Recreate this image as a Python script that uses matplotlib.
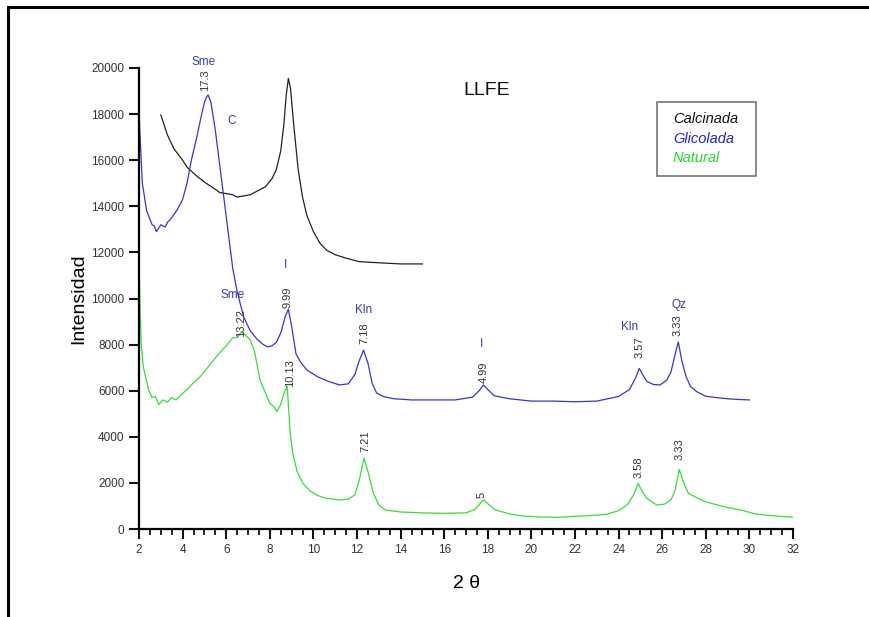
import numpy as np
from matplotlib import pyplot as plt, rcParams
from matplotlib.lines import Line2D
from matplotlib.patches import Rectangle
from matplotlib.ticker import MultipleLocator

rcParams['font.family'] = ['Liberation Sans', 'DejaVu Sans']

# Calcinada (black)
calc_x = [3.0, 3.3, 3.6, 4.0, 4.2, 4.6, 5.0, 5.4, 5.7, 6.0, 6.3, 6.5, 6.8, 7.1, 7.4, 7.8,
          8.1, 8.3, 8.5, 8.65, 8.75, 8.85, 8.95, 9.1, 9.3, 9.5, 9.7, 10.0, 10.3, 10.6,
          11.0, 11.5, 12.1, 13.0, 14.0, 15.0]
calc_y = [17960, 17100, 16500, 16000, 15700, 15350, 15050, 14800, 14600, 14550, 14500,
          14400, 14450, 14500, 14650, 14850, 15200, 15600, 16400, 17600, 18800, 19550,
          19100, 17500, 15600, 14400, 13600, 12900, 12400, 12100, 11900, 11750, 11600,
          11550, 11500, 11500]

# Glicolada (blue)
glic_x = [2.0, 2.05, 2.15, 2.35, 2.6, 2.7, 2.8, 3.0, 3.2, 3.3, 3.5, 3.75, 4.0, 4.2, 4.4,
          4.65, 4.85, 5.0, 5.1, 5.17, 5.3, 5.5, 5.7, 5.9, 6.1, 6.3, 6.5, 6.8, 7.1, 7.4,
          7.7, 7.9, 8.1, 8.3, 8.5, 8.7, 8.85, 9.0, 9.2, 9.4, 9.7, 10.2, 10.7, 11.2, 11.6,
          11.9, 12.1, 12.3, 12.5, 12.7, 12.9, 13.2, 13.7, 14.5, 15.5, 16.5, 17.3, 17.6,
          17.8, 18.0, 18.3, 19.0, 20.0, 21.0, 22.0, 23.0, 24.0, 24.5, 24.8, 24.95, 25.1,
          25.3, 25.6, 25.9, 26.2, 26.4, 26.6, 26.74, 26.9, 27.1, 27.3, 27.6, 28.0, 28.5,
          29.0, 29.5, 30.0]
glic_y = [18000, 17000, 15000, 13800, 13200, 13150, 12900, 13200, 13100, 13300, 13500,
          13850, 14300, 15000, 16000, 17000, 17900, 18500, 18750, 18830, 18500, 17300,
          15800, 14300, 12800, 11300, 10300, 9200, 8600, 8250, 8000, 7900, 7950, 8100,
          8500, 9200, 9530, 8800, 7600, 7250, 6900, 6600, 6400, 6250, 6300, 6700, 7300,
          7760, 7200, 6300, 5900, 5750, 5650, 5600, 5600, 5600, 5720, 6000, 6250, 6050,
          5780, 5650, 5550, 5550, 5520, 5550, 5750, 6050, 6600, 6970, 6700, 6400, 6270,
          6250, 6450, 6800, 7600, 8120, 7300, 6600, 6180, 5950, 5760, 5700, 5650, 5620,
          5600]

# Natural (green)
nat_x = [2.0, 2.05, 2.1, 2.2, 2.3, 2.45, 2.6, 2.75, 2.9, 3.1, 3.3, 3.5, 3.7, 3.9, 4.2,
         4.5, 4.8, 5.1, 5.4, 5.7, 6.0, 6.3, 6.5, 6.7, 6.9, 7.1, 7.3, 7.55, 7.8, 8.0, 8.2,
         8.32, 8.5, 8.65, 8.8, 8.93, 9.05, 9.25, 9.5, 9.85, 10.2, 10.6, 11.2, 11.6, 11.9,
         12.1, 12.32, 12.5, 12.75, 13.0, 13.3, 14.0, 15.0, 16.0, 17.0, 17.4, 17.6, 17.8,
         18.0, 18.3, 19.0, 19.6, 20.5, 21.2, 22.0, 23.0, 23.5, 24.0, 24.4, 24.7, 24.9,
         25.1, 25.3, 25.75, 26.1, 26.4, 26.6, 26.78, 26.95, 27.2, 27.6, 28.0, 28.5, 29.0,
         29.6, 30.3, 31.0, 32.0]
nat_y = [11500, 9500, 8000, 7000, 6600, 6000, 5700, 5750, 5400, 5600, 5500, 5700, 5600,
         5800, 6050, 6350, 6600, 6950, 7300, 7650, 7950, 8300, 8300, 8550, 8400, 8200,
         7700, 6460, 5900, 5450, 5300, 5090, 5400, 5900, 6170, 4200, 3300, 2500, 2000,
         1650, 1450, 1330, 1260, 1300, 1480, 2100, 3070, 2500, 1550, 1050, 820, 740, 700,
         680, 700, 850, 1050, 1260, 1100, 850, 650, 560, 520, 510, 550, 600, 650, 800,
         1050, 1500, 1980, 1600, 1330, 1040, 1080, 1260, 1700, 2590, 2100, 1550, 1350,
         1180, 1050, 930, 825, 650, 580, 510]

# phase labels (blue) and d-spacing labels (rotated)
phase_labels = ['Sme', 'C', 'I', 'Sme', 'Kln', 'I', 'Kln', 'Qz']
phase_x = [4.98, 6.27, 8.74, 6.31, 12.32, 17.69, 24.52, 26.77]
phase_y = [20260, 17700, 11450, 10150, 9500, 8030, 8760, 9720]

d_labels = ['17.3', '9.99', '13.22', '7.18', '4.99', '3.57', '3.33',
            '10.13', '7.21', '5', '3.58', '3.33']
d_x = [5.03, 8.83, 6.68, 12.32, 17.83, 24.94, 26.72, 8.93, 12.37, 17.73, 24.9, 26.78]
d_y = [19480, 10070, 8940, 8500, 6810, 7900, 8850, 6770, 3820, 1475, 2690, 3470]

series_names = ['Calcinada', 'Glicolada', 'Natural']
series_colors = ['#222222', '#3535d0', '#33e033']
legend_colors = ['#111111', '#2222dd', '#22dd22']

fig = plt.figure(figsize=(8.69, 6.17), dpi=100)
ax = fig.add_axes([0.16, 0.1426, 0.7525, 0.7472])

for xs, ys, c in zip([calc_x, glic_x, nat_x], [calc_y, glic_y, nat_y], series_colors):
    ax.plot(xs, ys, color=c, lw=0.9)

ax.set_xlim(2, 32)
ax.set_ylim(0, 20000)
ax.xaxis.set_major_locator(MultipleLocator(2))
ax.xaxis.set_minor_locator(MultipleLocator(0.5))
ax.yaxis.set_major_locator(MultipleLocator(2000))
for s in ('top', 'right'):
    ax.spines[s].set_visible(False)
for s in ('left', 'bottom'):
    ax.spines[s].set_linewidth(1.6)
ax.tick_params(axis='both', which='major', direction='out', length=7, width=1.5,
               labelsize=8.5, colors='#111111', labelcolor='#333333')
ax.tick_params(axis='x', which='minor', direction='out', length=4, width=1.2)

ax.set_ylabel('Intensidad', fontsize=14, labelpad=3)
ax.set_xlabel('2 θ', fontsize=14, labelpad=14)

for lab, x, y in zip(phase_labels, phase_x, phase_y):
    ax.text(x, y, lab, color='#3a3aae', fontsize=8.5, ha='center', va='center', clip_on=False)
for lab, x, y in zip(d_labels, d_x, d_y):
    ax.text(x, y, lab, color='#333333', fontsize=8, rotation=90, ha='center', va='center',
            clip_on=False)

ax.text(17.96, 19040, 'LLFE', fontsize=14, color='#111111', ha='center', va='center')

# legend box
fig.add_artist(Rectangle((0.756, 0.7147), 0.114, 0.12, transform=fig.transFigure,
                         facecolor='white', edgecolor='#777777', lw=1.2))
for name, c, ty in zip(series_names, legend_colors, [0.807, 0.7747, 0.7439]):
    fig.text(0.7745, ty, name, color=c, fontsize=10.5, style='italic', va='center')

# outer frame (top and left)
fig.add_artist(Line2D([0.0095, 1.0], [0.988, 0.988], color='black', lw=2.2))
fig.add_artist(Line2D([0.0095, 0.0095], [0.0, 0.988], color='black', lw=2.2))

plt.savefig('out.png', dpi=100)
